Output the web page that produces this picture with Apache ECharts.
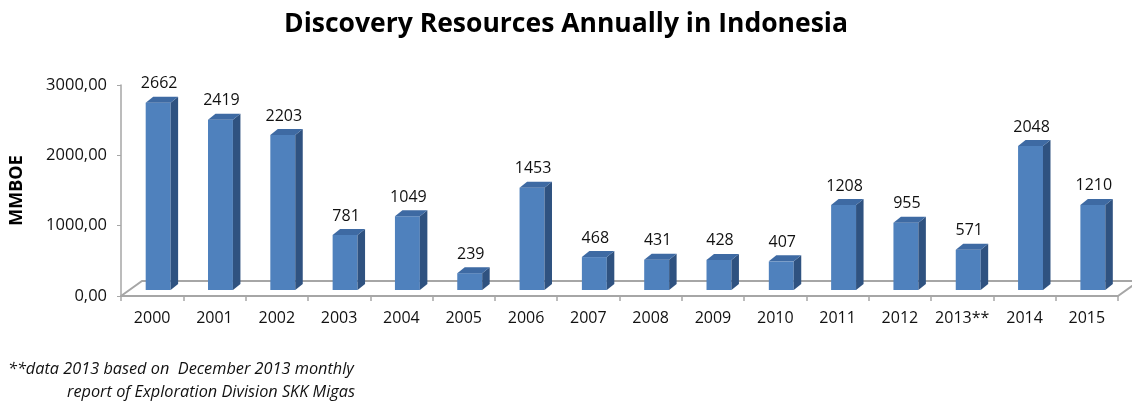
<!DOCTYPE html>
<html>
<head>
<meta charset="utf-8">
<script src="https://cdn.jsdelivr.net/npm/echarts@6/dist/echarts.min.js"></script>
<style>html,body{margin:0;padding:0;background:#fff;}#c{width:1132px;height:405px;}</style>
</head>
<body>
<div id="c"></div>
<script>
const categories = ['2000','2001','2002','2003','2004','2005','2006','2007','2008','2009','2010','2011','2012','2013**','2014','2015'];
const values = [2662,2419,2203,781,1049,239,1453,468,431,428,407,1208,955,571,2048,1210];
const yMin = 0, yMax = 3000, yInterval = 1000;
const titleText = 'Discovery Resources Annually in Indonesia';
const yAxisName = 'MMBOE';
const footnote1 = '**data 2013 based on  December 2013 monthly';
const footnote2 = 'report of Exploration Division SKK Migas';

const FONT = '"Open Sans"';
const chart = echarts.init(document.getElementById('c'), null, {renderer: 'canvas'});

function renderFloor(params, api) {
  const cs = params.coordSys;
  const x = cs.x, y = cs.y + cs.height, w = cs.width;
  return {
    type: 'polyline',
    shape: {points: [[x, y], [x + 21, y - 15], [x + w + 21, y - 15], [x + w, y]]},
    style: {stroke: '#a6a6a6', lineWidth: 2, fill: null}
  };
}

function renderBar(params, api) {
  const i = api.value(0), v = api.value(1);
  const base = api.coord([i, 0]);
  const top = api.coord([i, v]);
  const bw = api.size([1, 0])[0];
  const fw = bw * 0.4;
  const cx = base[0] + 6;
  const x0 = cx - fw / 2, x1 = cx + fw / 2;
  const yb = base[1] - 6, yt = top[1] - 6;
  const dx = 7.5, dy = 6;
  return {
    type: 'group',
    children: [
      {type: 'rect', shape: {x: x0, y: yt, width: fw, height: yb - yt}, style: {fill: '#4f81bd'}},
      {type: 'polygon', shape: {points: [[x1, yt], [x1 + dx, yt - dy], [x1 + dx, yb - dy], [x1, yb]]}, style: {fill: '#2f5280'}},
      {type: 'polygon', shape: {points: [[x0, yt], [x0 + dx, yt - dy], [x1 + dx, yt - dy], [x1, yt]]}, style: {fill: '#3e6aa3'}},
      {type: 'text', style: {text: String(v), x: cx + 1, y: yt - 19, align: 'center', verticalAlign: 'middle', fontFamily: FONT, fontSize: 16, fill: '#111'}}
    ]
  };
}

chart.setOption({
  animation: false,
  backgroundColor: '#fff',
  title: {
    text: titleText, left: 'center', top: 6,
    textStyle: {fontFamily: FONT, fontWeight: 'bold', fontSize: 26.5, color: '#000'}
  },
  grid: {left: 114, right: 14, top: 85, bottom: 109, containLabel: false},
  xAxis: {
    type: 'category', data: categories, boundaryGap: true,
    axisLine: {lineStyle: {color: '#a6a6a6', width: 2}},
    axisTick: {show: true, interval: 0, alignWithLabel: false, length: 5, lineStyle: {color: '#a6a6a6', width: 1.5}},
    axisLabel: {interval: 0, hideOverlap: false, margin: 14, fontFamily: FONT, fontSize: 16, color: '#111'},
    splitLine: {show: false}
  },
  yAxis: {
    type: 'value', min: yMin, max: yMax, interval: yInterval,
    name: yAxisName, nameLocation: 'middle', nameRotate: 90, nameGap: 95,
    nameTextStyle: {fontFamily: FONT, fontWeight: 'bold', fontSize: 18, color: '#000'},
    axisLine: {show: true, lineStyle: {color: '#a6a6a6', width: 1.5}},
    axisTick: {show: true, length: 4, lineStyle: {color: '#a6a6a6'}},
    axisLabel: {margin: 14, fontFamily: FONT, fontSize: 16.5, color: '#111',
      formatter: v => v.toFixed(2).replace('.', ',')},
    splitLine: {show: false}
  },
  series: [
    {type: 'custom', renderItem: renderFloor, data: [[0, 0]], z: 1, silent: true},
    {type: 'custom', renderItem: renderBar, data: values.map((v, i) => [i, v]), encode: {x: 0, y: 1}, z: 2}
  ],
  graphic: [
    {type: 'text', left: 8, top: 361, style: {text: footnote1, font: 'italic 16.3px ' + FONT, fill: '#111'}},
    {type: 'text', right: 1132 - 355, top: 384, style: {text: footnote2, font: 'italic 16.3px ' + FONT, fill: '#111'}}
  ]
});
</script>
</body>
</html>
